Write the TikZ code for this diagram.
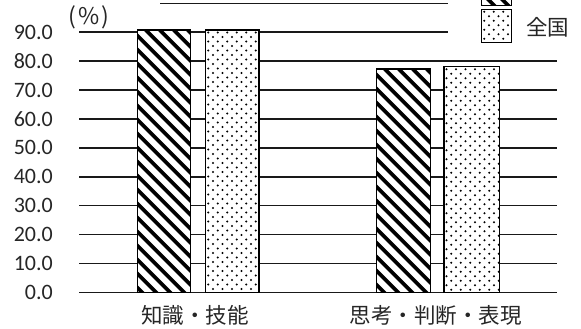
\documentclass[tikz,border=0pt]{standalone}
\usepackage{fontspec}
\setmainfont{Carlito}
\newfontfamily\jpfont{Noto Sans CJK JP}
\begin{document}
\begin{tikzpicture}[x=1pt,y=-1pt,
  grid/.style={line width=1.6pt,black!90},
  barframe/.style={line width=1.5pt,black},
  ylab/.style={anchor=east,font=\fontsize{22}{22}\selectfont,text=black!85,inner sep=0pt},
  catlab/.style={font=\jpfont\fontsize{21.5}{22}\selectfont,text=black!85,inner sep=0pt},
]
\useasboundingbox (0,0) rectangle (581,329);
\clip (0,0) rectangle (581,329);
% gridlines
\foreach \v in {0,10,...,80}{
  \pgfmathsetmacro\yy{292.3-2.89*\v}
  \coordinate (gl\v) at (79,\yy);
  \coordinate (gr\v) at (557,\yy);
  \draw[grid] (gl\v) -- (gr\v);
  \node[ylab] (lab\v) at (53,\yy) {\v.0};
}
\coordinate (gl90) at (79,32.3);
\coordinate (gr90) at (448,32.3);
\draw[grid] (gl90) -- (gr90);
\node[ylab] (lab90) at (53,32.3) {90.0};
\coordinate (gl100) at (160,3.4);
\coordinate (gr100) at (448,3.4);
\draw[grid] (gl100) -- (gr100);
\node[inner sep=0pt,text=black!85,font=\jpfont\fontsize{23}{25}\selectfont] (pct) at (89,17) {(\hspace{2pt}\%\hspace{2pt})};
% hatched bars
\foreach \x/\w/\t [count=\i] in {137.7/53/30, 376.7/54/69, 481.7/30/-27}{
  \pgfmathsetmacro\bb{ifthenelse(\i==3,5.7,292.3)}
  \begin{scope}
    \clip (\x,\t) rectangle ++(\w,\bb-\t);
    \fill[white] (\x,\t) rectangle ++(\w,\bb-\t);
    \foreach \c in {-300,-286,...,80}{
      \draw[line width=3.8pt] (\x+\c,\t) -- ++(320,320);
    }
  \end{scope}
  \draw[barframe] (\x,\t) rectangle ++(\w,\bb-\t);
}
% dotted bars
\foreach \x/\w/\t [count=\i] in {205.7/53.3/30, 444/55.3/66.7, 481.7/30/9.3}{
  \pgfmathsetmacro\bb{ifthenelse(\i==3,42.3,292.3)}
  \begin{scope}
    \clip (\x,\t) rectangle ++(\w,\bb-\t);
    \fill[white] (\x,\t) rectangle ++(\w,\bb-\t);
    \foreach \r in {0,...,60}{
      \pgfmathsetmacro\off{mod(\r,2)*4.75}
      \foreach \k in {0,...,6}{
        \fill (\x+2.5+\off+9.5*\k,\t+2.5+4.5*\r) circle (1.1pt);
      }
    }
  \end{scope}
  \draw[barframe] (\x,\t) rectangle ++(\w,\bb-\t);
}
\node[catlab] (c1) at (195,315) {知識・技能};
\node[catlab] (c2) at (435.5,315) {思考・判断・表現};
\node[catlab,anchor=west] (leg2) at (526,27) {全国};
\end{tikzpicture}
\end{document}
